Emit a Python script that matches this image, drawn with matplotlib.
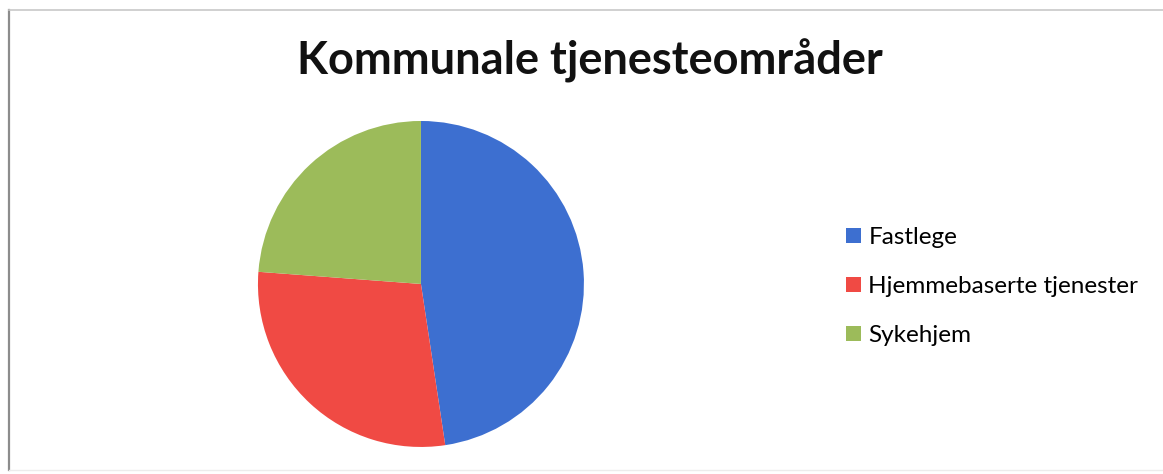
import matplotlib.pyplot as plt
from matplotlib.patches import Patch
from matplotlib.lines import Line2D

# Antall per tjenesteområde
categories = ["Fastlege", "Hjemmebaserte tjenester", "Sykehjem"]
counts = [20, 12, 10]
colors = ["#3d6fd0", "#f04a44", "#9cbb5a"]

plt.rcParams["font.family"] = ["Lato", "DejaVu Sans"]

fig = plt.figure(figsize=(11.63, 4.74), dpi=100)

# Ramme rundt diagrammet
fig.add_artist(Line2D([8.5 / 1163, 8.5 / 1163], [1 - 9.5 / 474, 1 - 470 / 474],
                      transform=fig.transFigure, color="#8c8c8c", lw=1.6))
fig.add_artist(Line2D([8.5 / 1163, 1], [1 - 9.5 / 474, 1 - 9.5 / 474],
                      transform=fig.transFigure, color="#c8c8c8", lw=1.2))
fig.add_artist(Line2D([8.5 / 1163, 1], [1 - 470 / 474, 1 - 470 / 474],
                      transform=fig.transFigure, color="#ececec", lw=1.0))

ax = fig.add_axes([0.2218, 0.057, 0.2803, 0.6878])
ax.pie(counts, colors=colors, startangle=90, counterclock=False,
       wedgeprops={"linewidth": 0})
ax.set_xlim(-1, 1)
ax.set_ylim(-1, 1)
ax.set_aspect("equal")

fig.text(0.5075, 1 - 61 / 474, "Kommunale tjenesteområder", ha="center", va="center",
         fontsize=32.5, fontweight="bold", color="#111111")

handles = [Patch(facecolor=c, edgecolor="none") for c in colors]
fig.legend(handles, categories, loc="center left", bbox_to_anchor=(0.709, 0.395),
           frameon=False, fontsize=17.5, handlelength=0.6, handleheight=0.6,
           handletextpad=0.3, labelspacing=1.15)

fig.savefig("out.png", dpi=100)
